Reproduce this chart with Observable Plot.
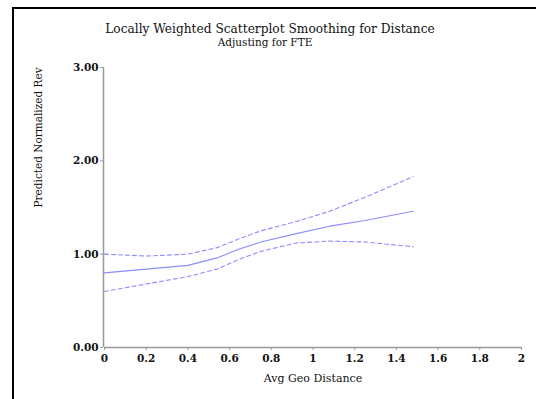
<!DOCTYPE html>
<html><head><meta charset="utf-8">
<script src="https://cdn.jsdelivr.net/npm/d3@7"></script>
<script src="https://cdn.jsdelivr.net/npm/@observablehq/plot@0.6"></script>
<style>
body{margin:0;background:#fff;overflow:hidden;width:536px;height:399px;position:relative;}
#frame{position:absolute;left:12px;top:7px;width:700px;height:600px;border:2px solid #000;box-sizing:border-box;}
.ttl{position:absolute;left:0;text-align:center;color:#111;font-family:'DejaVu Serif','Liberation Serif',serif;}
#title{top:22px;width:540px;font-size:12.2px;}
#subtitle{top:36px;width:530px;font-size:10.5px;}
#chart{position:absolute;left:0;top:50px;}
</style></head>
<body>
<div id="frame"></div>
<div id="title" class="ttl">Locally Weighted Scatterplot Smoothing for Distance</div>
<div id="subtitle" class="ttl">Adjusting for FTE</div>
<div id="chart"></div>
<script>
const distance = [0, 0.2, 0.4, 0.54, 0.64, 0.75, 0.92, 1.08, 1.25, 1.48];
const predicted = [0.80, 0.84, 0.88, 0.96, 1.05, 1.13, 1.22, 1.30, 1.36, 1.46];
const upperCL   = [1.00, 0.98, 1.00, 1.07, 1.16, 1.25, 1.35, 1.46, 1.61, 1.83];
const lowerCL   = [0.60, 0.68, 0.76, 0.84, 0.94, 1.03, 1.12, 1.14, 1.13, 1.08];
const xTicks = [0, 0.2, 0.4, 0.6, 0.8, 1, 1.2, 1.4, 1.6, 1.8, 2];
const yTicks = [0, 1, 2, 3];

const rows = distance.map((d, i) => ({d, p: predicted[i], u: upperCL[i], l: lowerCL[i]}));
const blue = "#7070ff";

const chart = Plot.plot({
  width: 536, height: 349,
  marginLeft: 104, marginRight: 15, marginTop: 17, marginBottom: 52,
  style: {fontFamily: "'DejaVu Serif', 'Liberation Serif', serif", fontSize: "10.5px", fontWeight: "bold", color: "#111", background: "transparent"},
  x: {domain: [0, 2]},
  y: {domain: [0, 3]},
  marks: [
    Plot.ruleX([0], {stroke: "#999", strokeWidth: 1.5, dx: -1}),
    Plot.ruleY([0], {stroke: "#999", strokeWidth: 1.5}),
    Plot.axisX({ticks: xTicks, tickSize: 3, tickPadding: 4, stroke: "#999", label: null, tickFormat: d => String(d)}),
    Plot.axisY({ticks: yTicks, tickSize: 3, tickPadding: 2, stroke: "#999", label: null, tickFormat: d3.format(".2f"), dx: -1}),
    Plot.line(rows, {x: "d", y: "u", stroke: blue, strokeWidth: 1.1, strokeDasharray: "4,3", strokeOpacity: 0.8}),
    Plot.line(rows, {x: "d", y: "l", stroke: blue, strokeWidth: 1.1, strokeDasharray: "4,3", strokeOpacity: 0.8}),
    Plot.line(rows, {x: "d", y: "p", stroke: blue, strokeWidth: 1.1, strokeOpacity: 0.8}),
    Plot.text(["Avg Geo Distance"], {frameAnchor: "bottom", dy: 34, fontWeight: "normal", fontSize: 11}),
    Plot.text(["Predicted Normalized Rev"], {frameAnchor: "left", dx: -66, rotate: -90, fontWeight: "normal", fontSize: 10.5})
  ]
});
document.getElementById("chart").appendChild(chart);
</script>
</body></html>
